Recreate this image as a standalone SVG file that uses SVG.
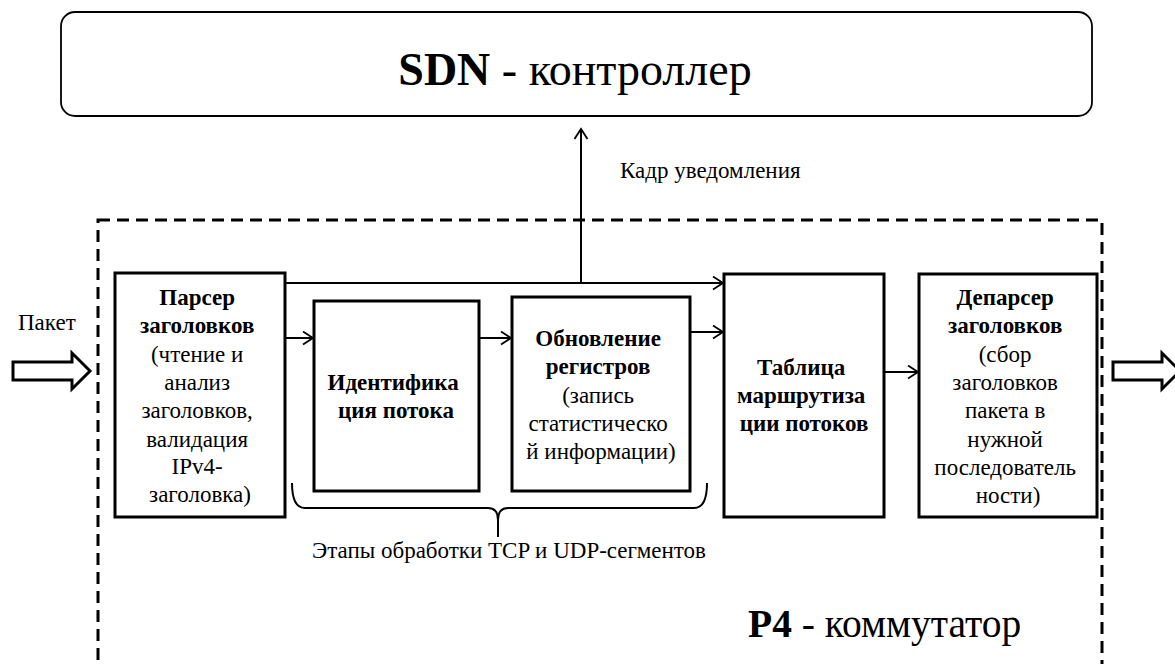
<svg xmlns="http://www.w3.org/2000/svg" width="1175" height="664" viewBox="0 0 1175 664">
  <defs>
    <marker id="chev" markerUnits="userSpaceOnUse" markerWidth="14" markerHeight="16" refX="11" refY="7" orient="auto">
      <path d="M1,0.5 L11,7 L1,13.5" fill="none" stroke="#000" stroke-width="1.8"/>
    </marker>
  </defs>
  <style>
    text { font-family: 'Liberation Serif', 'Times New Roman', serif; fill: #000; }
    .box { fill: #fff; stroke: #000; stroke-width: 3; }
    .lbl { font-size: 23px; text-anchor: middle; }
    .b { font-weight: bold; }
    .small { font-size: 23px; }
    .conn { fill: none; stroke: #000; stroke-width: 2; }
    .fat { fill: #fff; stroke: #000; stroke-width: 3; stroke-linejoin: miter; }
  </style>
  <rect width="1175" height="664" fill="#fff"/>

  <!-- controller -->
  <g id="controller">
    <rect x="61" y="12" width="1031" height="104" rx="14" fill="#fff" stroke="#000" stroke-width="1.8"/>
    <text x="575" y="85" font-size="46" text-anchor="middle"><tspan font-weight="bold">SDN</tspan> - контроллер</text>
  </g>

  <!-- switch boundary -->
  <g id="switch">
    <rect x="98" y="220" width="1004" height="470" fill="none" stroke="#000" stroke-width="3" stroke-dasharray="12 7"/>
    <text x="748" y="637" font-size="39.5"><tspan font-weight="bold">P4</tspan> - коммутатор</text>
  </g>

  <g id="parser">
    <rect class="box" x="115" y="273" width="170" height="244"/>
    <text class="lbl" x="200">
      <tspan class="b" x="200" y="305">Парсер</tspan>
      <tspan class="b" x="200" y="333">заголовков</tspan>
      <tspan x="200" y="362">(чтение и</tspan>
      <tspan x="200" y="390">анализ</tspan>
      <tspan x="200" y="418">заголовков,</tspan>
      <tspan x="200" y="447">валидация</tspan>
      <tspan x="200" y="474">IPv4-</tspan>
      <tspan x="200" y="502">заголовка)</tspan>
    </text>
  </g>

  <g id="flow-id">
    <rect class="box" x="314" y="301" width="165" height="190"/>
    <text class="lbl b" x="396">
      <tspan x="396" y="390">Идентифика</tspan>
      <tspan x="396" y="418">ция потока</tspan>
    </text>
  </g>

  <g id="registers">
    <rect class="box" x="512" y="297" width="178" height="194"/>
    <text class="lbl" x="601">
      <tspan class="b" x="601" y="346">Обновление</tspan>
      <tspan class="b" x="601" y="374">регистров</tspan>
      <tspan x="601" y="403">(запись</tspan>
      <tspan x="601" y="431">статистическо</tspan>
      <tspan x="601" y="459">й информации)</tspan>
    </text>
  </g>

  <g id="routing">
    <rect class="box" x="724" y="274" width="160" height="243"/>
    <text class="lbl b" x="804">
      <tspan x="804" y="375">Таблица</tspan>
      <tspan x="804" y="403">маршрутиза</tspan>
      <tspan x="804" y="431">ции потоков</tspan>
    </text>
  </g>

  <g id="deparser">
    <rect class="box" x="919" y="274" width="178" height="243"/>
    <text class="lbl" x="1008">
      <tspan class="b" x="1008" y="305">Депарсер</tspan>
      <tspan class="b" x="1008" y="333">заголовков</tspan>
      <tspan x="1008" y="362">(сбор</tspan>
      <tspan x="1008" y="390">заголовков</tspan>
      <tspan x="1008" y="418">пакета в</tspan>
      <tspan x="1008" y="447">нужной</tspan>
      <tspan x="1008" y="475">последователь</tspan>
      <tspan x="1008" y="503">ности)</tspan>
    </text>
  </g>

  <g id="connectors">
    <line class="conn" x1="285" y1="283" x2="723" y2="283" marker-end="url(#chev)"/>
    <line class="conn" x1="581" y1="283" x2="581" y2="129" marker-end="url(#chev)"/>
    <line class="conn" x1="285" y1="338" x2="313" y2="338" marker-end="url(#chev)"/>
    <line class="conn" x1="479" y1="338" x2="511" y2="338" marker-end="url(#chev)"/>
    <line class="conn" x1="690" y1="332" x2="723" y2="332" marker-end="url(#chev)"/>
    <line class="conn" x1="884" y1="372" x2="918" y2="372" marker-end="url(#chev)"/>
    <!-- packet in / out -->
    <path class="fat" d="M13,362 L72,362 L72,353 L90,371 L72,389 L72,380 L13,380 Z"/>
    <path class="fat" d="M1113,362 L1162,362 L1162,353 L1180,371 L1162,389 L1162,380 L1113,380 Z"/>
    <!-- brace -->
    <path class="conn" d="M292,483 Q292,508 305,508 L488,508 Q498,508 498,520 L498,537 M498,520 Q498,508 508,508 L694,508 Q707,508 707,483"/>
  </g>

  <g id="labels">
    <text class="small" x="620" y="178">Кадр уведомления</text>
    <text class="small" x="18" y="330">Пакет</text>
    <text class="small" x="312" y="558">Этапы обработки TCP и UDP-сегментов</text>
  </g>
</svg>
